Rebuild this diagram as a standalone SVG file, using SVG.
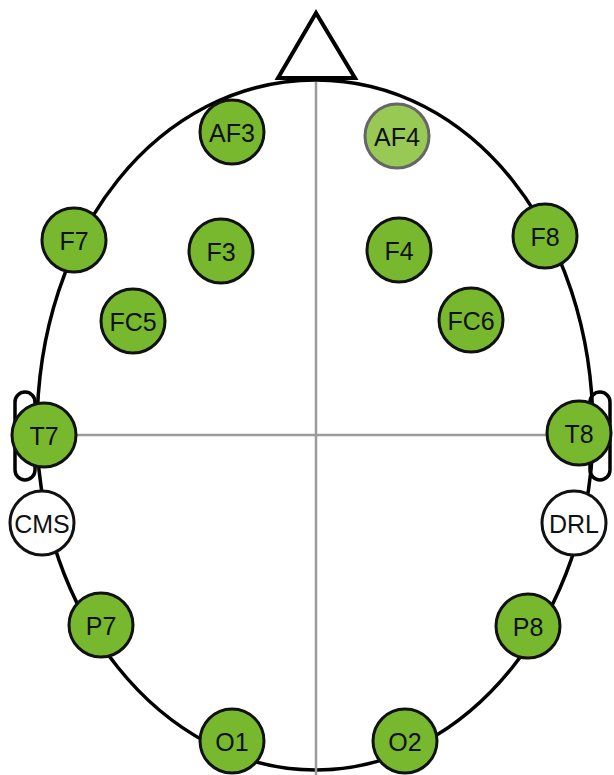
<svg xmlns="http://www.w3.org/2000/svg" width="614" height="775" viewBox="0 0 614 775">
<style>
.head{fill:none;stroke:#000;stroke-width:3.5}
.axis{stroke:#9a9a9a;stroke-width:2.5;fill:none}
.ear{fill:#fff;stroke:#000;stroke-width:3.5}
.e circle{fill:#77b82f;stroke:#111;stroke-width:3}
.r circle{fill:#fff;stroke:#111;stroke-width:3}
.l circle{fill:#98c955;stroke:#666;stroke-width:3}
text{font-family:"Liberation Sans",Arial,sans-serif;font-size:25px;fill:#111;text-anchor:middle;dominant-baseline:central}
</style>
<rect width="614" height="775" fill="#fff"/>
<g id="outline">
<polygon points="316,13 278,78 355,78" fill="#fff" stroke="#000" stroke-width="4" stroke-linejoin="miter"/>
<rect class="ear" x="15" y="392" width="20" height="88" rx="10"/>
<rect class="ear" x="590" y="392" width="20" height="88" rx="10"/>
<path class="head" d="M316,80 C470,80 593,230 593,430 C593,610 470,770 316,770 C160,770 37,610 37,430 C37,230 160,80 316,80 Z"/>
</g>
<g id="connectors">
<line class="axis" x1="316" y1="82" x2="316" y2="775"/>
<line class="axis" x1="76" y1="435" x2="547" y2="435"/>
</g>
<g id="AF3" class="e"><circle cx="232" cy="132" r="32"/><text x="232" y="133">AF3</text></g>
<g id="AF4" class="l"><circle cx="397" cy="136" r="32"/><text x="397" y="137">AF4</text></g>
<g id="F7" class="e"><circle cx="74" cy="240" r="32"/><text x="74" y="241">F7</text></g>
<g id="F3" class="e"><circle cx="221" cy="251" r="32"/><text x="221" y="252">F3</text></g>
<g id="F4" class="e"><circle cx="399" cy="250" r="32"/><text x="399" y="251">F4</text></g>
<g id="F8" class="e"><circle cx="545" cy="236" r="32"/><text x="545" y="237">F8</text></g>
<g id="FC5" class="e"><circle cx="133" cy="321" r="32"/><text x="133" y="322">FC5</text></g>
<g id="FC6" class="e"><circle cx="471" cy="320" r="32"/><text x="471" y="321">FC6</text></g>
<g id="T7" class="e"><circle cx="44" cy="435" r="32"/><text x="44" y="436">T7</text></g>
<g id="T8" class="e"><circle cx="579" cy="433" r="32"/><text x="579" y="434">T8</text></g>
<g id="CMS" class="r"><circle cx="42" cy="523" r="32"/><text x="42" y="524">CMS</text></g>
<g id="DRL" class="r"><circle cx="574" cy="523" r="32"/><text x="574" y="524">DRL</text></g>
<g id="P7" class="e"><circle cx="101" cy="625" r="32"/><text x="101" y="626">P7</text></g>
<g id="P8" class="e"><circle cx="528" cy="626" r="32"/><text x="528" y="627">P8</text></g>
<g id="O1" class="e"><circle cx="232" cy="741" r="32"/><text x="232" y="742">O1</text></g>
<g id="O2" class="e"><circle cx="405" cy="741" r="32"/><text x="405" y="742">O2</text></g>
</svg>
